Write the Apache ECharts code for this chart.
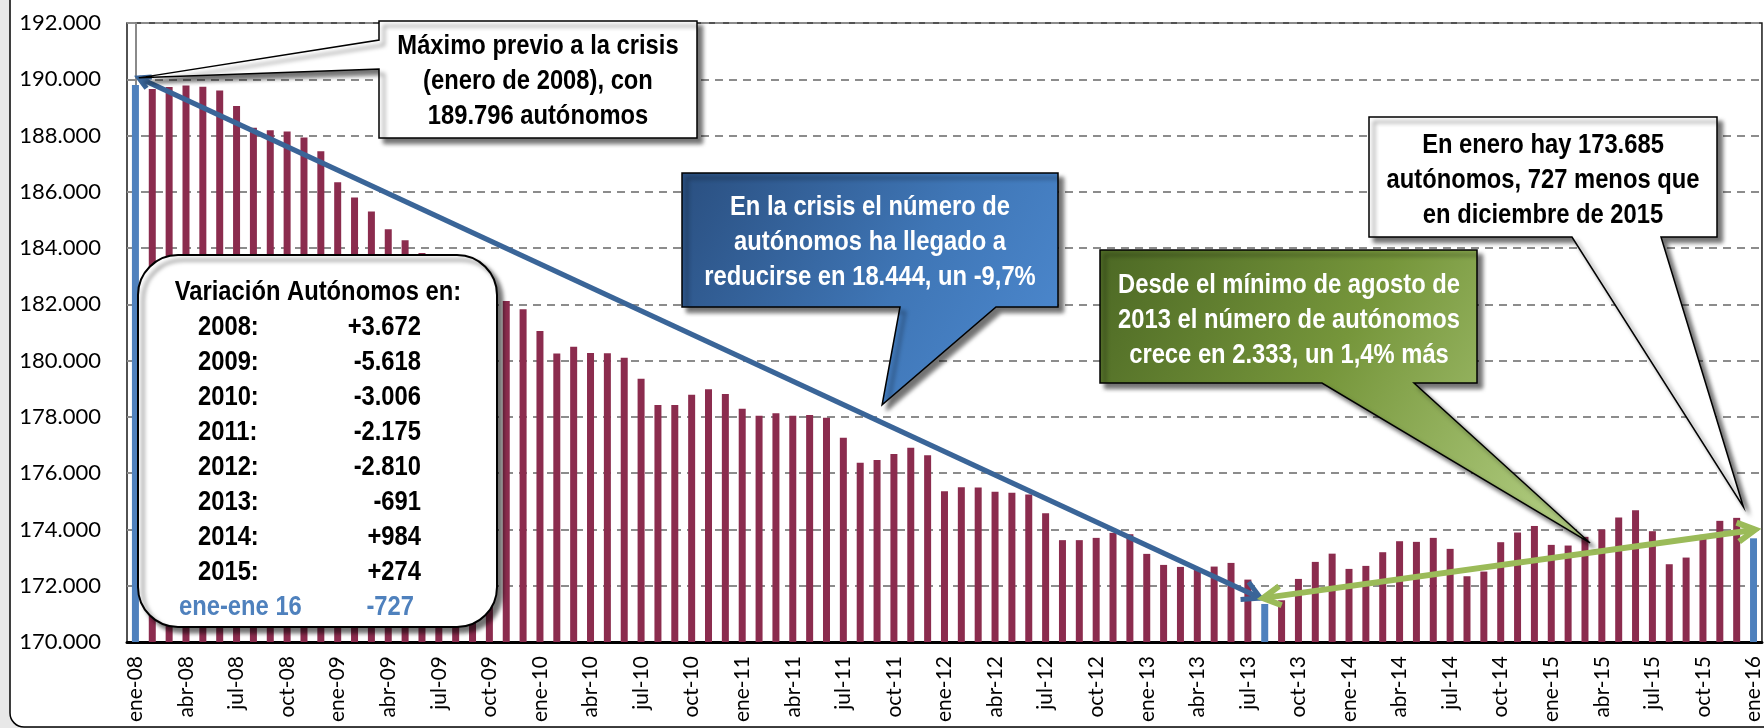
<!DOCTYPE html>
<html><head><meta charset="utf-8">
<script src="https://cdn.jsdelivr.net/npm/echarts@6/dist/echarts.min.js"></script>
<style>html,body{margin:0;padding:0;background:#e8e8e8}#c{width:1764px;height:728px}</style>
</head><body><div id="c"></div>
<script>
// ---------- data ----------
const months = ['ene','feb','mar','abr','may','jun','jul','ago','sep','oct','nov','dic'];
const yearSuffixes = ['08','09','10','11','12','13','14','15','16'];
const categories = [];
yearSuffixes.forEach(y => months.forEach(m => { if (categories.length < 97) categories.push(m + '-' + y); }));

const autonomos = [
  189796,189651,189722,189782,189734,189604,189046,188275,188192,188145,187931,187445,
  186342,185796,185298,184670,184278,183827,183450,182750,182600,182450,182119,181827,
  181051,180257,180494,180273,180261,180107,179359,178422,178422,178790,178980,178816,
  178292,178043,178126,178043,178066,177972,177260,176370,176465,176679,176904,176641,
  175362,175504,175492,175338,175302,175243,174579,173620,173620,173701,173879,173831,
  173132,172740,172669,172600,172681,172811,172218,171352,171483,172242,172847,173140,
  172598,172705,173191,173582,173559,173701,173310,172337,172503,173547,173891,174124,
  173452,173428,173737,173998,174425,174686,173938,172764,173001,173808,174306,174412,
  173685
];
const highlightIdx = [0, 67, 96];           // ene-08, ago-13, ene-16
const yMin = 170000, yMax = 192000, yStep = 2000;

const variationTitle = 'Variación Autónomos en:';
const variationLabels = ['2008:','2009:','2010:','2011:','2012:','2013:','2014:','2015:'];
const variationValues = ['+3.672','-5.618','-3.006','-2.175','-2.810','-691','+984','+274'];
const variationLastLabel = 'ene-ene 16';
const variationLastValue = '-727';

// arrows in (month index, value) space
const arrowSegments = [
  [0.2, 190050, 66.75, 171560],   // crisis drop
  [66.9, 171560, 96.1, 173990]    // recovery
];
// callout tips in (month index, value) space
const tipMaximo   = [0.2, 190050];
const tipCrisis   = [44.3, 178430];
const tipMinimo   = [86.3, 173520];
const tipEnero    = [95.4, 174800];

const textMaximo = 'Máximo previo a la crisis\n(enero de 2008), con\n189.796 autónomos';
const textCrisis = 'En la crisis el número de\nautónomos ha llegado a\nreducirse en 18.444, un -9,7%';
const textMinimo = 'Desde el mínimo de agosto de\n2013 el número de autónomos\ncrece en 2.333, un 1,4% más';
const textEnero  = 'En enero hay 173.685\nautónomos, 727 menos que\nen diciembre de 2015';

// ---------- styles ----------
const MAROON = '#8B2C4E', BLUE = '#4F81BD';
const ARROW_COLORS = ['#3A6598', '#9BBB59'];
const AXIS_FONT = 'Lato, "Open Sans", sans-serif';
const BOLD = 'bold 27px "Liberation Sans", Arial, sans-serif';
const NARROW_SCALE = 0.88;

function fmt(v) {
  return String(Math.round(v)).replace(/\B(?=(\d{3})+(?!\d))/g, '.');
}

const chart = echarts.init(document.getElementById('c'), null, {renderer: 'canvas'});

function arrowHead(tip, from, len, ang) {
  const dx = tip[0] - from[0], dy = tip[1] - from[1];
  const d = Math.hypot(dx, dy), ux = dx / d, uy = dy / d;
  const pts = [];
  [ang, -ang].forEach(a => {
    const c = Math.cos(a), s = Math.sin(a);
    const rx = ux * c - uy * s, ry = ux * s + uy * c;
    pts.push([tip[0] - len * rx, tip[1] - len * ry]);
  });
  return [pts[0], tip, pts[1]];
}

const option = {
  backgroundColor: '#e8e8e8',
  animation: false,
  grid: {left: 127, top: 23, width: 1641, height: 619, containLabel: false,
         show: true, borderColor: '#1a1a1a', borderWidth: 1.5, backgroundColor: 'transparent'},
  xAxis: [{
    type: 'category', data: categories, boundaryGap: true,
    axisLine: {show: true, lineStyle: {color: '#000', width: 3}},
    axisTick: {show: false},
    axisLabel: {interval: 2, rotate: 90, fontSize: 21, fontFamily: AXIS_FONT, color: '#000', margin: 14},
    splitLine: {show: false}
  }, {
    type: 'value', min: -0.5, max: 96.5, show: false, splitLine: {show: false}
  }],
  yAxis: {
    type: 'value', min: yMin, max: yMax, interval: yStep,
    axisLine: {show: true, lineStyle: {color: '#8a8a8a', width: 2}},
    axisTick: {show: false},
    axisLabel: {formatter: fmt, fontSize: 22, fontFamily: AXIS_FONT, color: '#000', margin: 26},
    splitLine: {show: true, lineStyle: {type: [8, 6], color: '#8c8c8c', width: 2}}
  },
  series: [{
    type: 'bar', xAxisIndex: 0, yAxisIndex: 0, barWidth: 7, z: 2,
    data: autonomos.map((v, i) => ({value: v, itemStyle: {color: highlightIdx.includes(i) ? BLUE : MAROON}}))
  }, {
    type: 'custom', xAxisIndex: 1, yAxisIndex: 0, z: 5, clip: false,
    data: arrowSegments,
    renderItem: function (params, api) {
      const p1 = api.coord([api.value(0), api.value(1)]);
      const p2 = api.coord([api.value(2), api.value(3)]);
      const color = ARROW_COLORS[params.dataIndex];
      const w = params.dataIndex === 0 ? 5 : 6;
      const startLen = params.dataIndex === 0 ? 13 : 20;
      const st = {stroke: color, lineWidth: w, fill: null, lineJoin: 'miter', lineCap: 'butt'};
      return {type: 'group', children: [
        {type: 'line', shape: {x1: p1[0], y1: p1[1], x2: p2[0], y2: p2[1]}, style: st},
        {type: 'polyline', shape: {points: arrowHead(p2, p1, 20, 0.5)}, style: st},
        {type: 'polyline', shape: {points: arrowHead(p1, p2, startLen, 0.5)}, style: st}
      ]};
    }
  }]
};
chart.setOption(option);

// ---------- annotations ----------
function px(d) { return chart.convertToPixel({seriesIndex: 1}, d); }
const SHADOW = {shadowBlur: 4, shadowColor: 'rgba(0,0,0,0.55)', shadowOffsetX: 5, shadowOffsetY: 5};

function calloutLeft(b, y1, y2, tip) {
  return [[b[0], b[1]], [b[2], b[1]], [b[2], b[3]], [b[0], b[3]], [b[0], y2], tip, [b[0], y1]];
}
function calloutBottom(b, x1, x2, tip) {
  return [[b[0], b[1]], [b[2], b[1]], [b[2], b[3]], [x2, b[3]], tip, [x1, b[3]], [b[0], b[3]]];
}
function poly(points, fill) {
  return {type: 'polygon', z: 20, silent: true, shape: {points: points},
          style: Object.assign({fill: fill, stroke: '#000', lineWidth: 1.5}, SHADOW)};
}
function txt(t, x, y, color, align) {
  return {type: 'text', z: 21, silent: true, x: x, y: y, scaleX: NARROW_SCALE, scaleY: 1,
          style: {text: t, x: 0, y: 0, fill: color, font: BOLD, align: align || 'center',
                  verticalAlign: 'middle', lineHeight: 35}};
}

const tA = px(tipMaximo), tC = px(tipCrisis), tD = px(tipMinimo), tE = px(tipEnero);
const blueGrad = new echarts.graphic.LinearGradient(0, 0, 1, 1, [
  {offset: 0, color: '#2A4F80'}, {offset: 0.55, color: '#3F76B6'}, {offset: 1, color: '#4E8BD2'}]);
const greenGrad = new echarts.graphic.LinearGradient(0, 0, 1, 1, [
  {offset: 0, color: '#4C6824'}, {offset: 0.45, color: '#76963B'}, {offset: 1, color: '#B9D48A'}]);

const boxF = [138, 255, 359, 372];
const graphics = [
  {type: 'rect', z: -10, silent: true, shape: {x: 10, y: -30, width: 1800, height: 757, r: 14},
   style: {fill: '#fff', stroke: '#000', lineWidth: 1.5}},
  poly(calloutLeft([379, 21, 697, 138], 40, 69, tA), '#fff'),
  txt(textMaximo, 538, 82, '#000'),
  poly(calloutBottom([682, 173, 1058, 307], 900, 996, tC), blueGrad),
  txt(textCrisis, 870, 243, '#fff'),
  poly(calloutBottom([1100, 250, 1477, 383], 1322, 1414, tD), greenGrad),
  txt(textMinimo, 1289, 321, '#fff'),
  poly(calloutBottom([1369, 117, 1717, 237], 1572, 1661, tE), '#fff'),
  txt(textEnero, 1543, 181, '#000'),
  {type: 'rect', z: 20, silent: true, shape: {x: boxF[0], y: boxF[1], width: boxF[2], height: boxF[3], r: 40},
   style: Object.assign({fill: '#fff', stroke: '#000', lineWidth: 2}, SHADOW)},
  txt(variationTitle, 318, 293, '#000')
];
variationLabels.forEach((l, i) => {
  graphics.push(txt(l, 198, 328 + i * 35, '#000', 'left'));
  graphics.push(txt(variationValues[i], 421, 328 + i * 35, '#000', 'right'));
});
graphics.push(txt(variationLastLabel, 179, 608, BLUE, 'left'));
graphics.push(txt(variationLastValue, 414, 608, BLUE, 'right'));

chart.setOption({graphic: graphics});
</script>
</body></html>
